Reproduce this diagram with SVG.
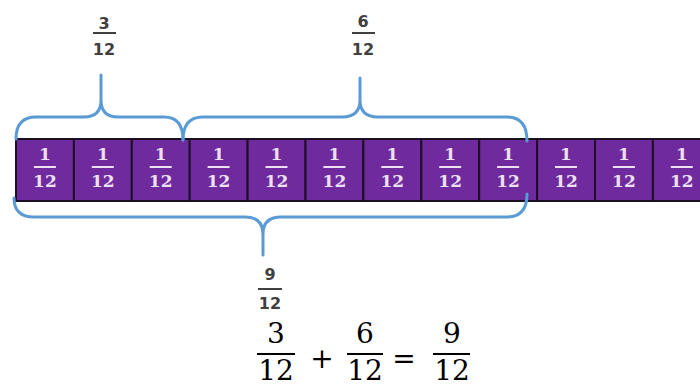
<svg xmlns="http://www.w3.org/2000/svg" width="700" height="387" viewBox="0 0 700 387">
<style>
.cell{fill:#6f2a9e;stroke:#1c0f24;stroke-width:2}
.ct{font-family:"DejaVu Serif",serif;font-weight:bold;font-size:17px;fill:#eee0f4;text-anchor:middle}
.cl{stroke:#eee0f4;stroke-width:2}
.br{fill:none;stroke:#5b9bd5;stroke-width:3;stroke-linecap:round;stroke-linejoin:round}
.lt{font-family:"DejaVu Sans",sans-serif;font-weight:bold;font-size:16px;fill:#404040;text-anchor:middle}
.ll{stroke:#404040;stroke-width:2}
.eq{font-family:"DejaVu Serif",serif;font-size:28px;fill:#000;text-anchor:middle}
.el{stroke:#000;stroke-width:2}
</style>
<defs>
<g id="frac">
<text class="ct" x="0" y="160">1</text>
<line class="cl" x1="-11" y1="167" x2="11" y2="167"/>
<text class="ct" x="0" y="187">12</text>
</g>
</defs>
<g id="bar">
<g id="cell1"><rect class="cell" x="16" y="139" width="57.9" height="62"/><use href="#frac" x="44.9"/></g>
<g id="cell2"><rect class="cell" x="73.9" y="139" width="57.9" height="62"/><use href="#frac" x="102.8"/></g>
<g id="cell3"><rect class="cell" x="131.8" y="139" width="57.9" height="62"/><use href="#frac" x="160.7"/></g>
<g id="cell4"><rect class="cell" x="189.7" y="139" width="57.9" height="62"/><use href="#frac" x="218.6"/></g>
<g id="cell5"><rect class="cell" x="247.6" y="139" width="57.9" height="62"/><use href="#frac" x="276.5"/></g>
<g id="cell6"><rect class="cell" x="305.5" y="139" width="57.9" height="62"/><use href="#frac" x="334.4"/></g>
<g id="cell7"><rect class="cell" x="363.4" y="139" width="57.9" height="62"/><use href="#frac" x="392.3"/></g>
<g id="cell8"><rect class="cell" x="421.3" y="139" width="57.9" height="62"/><use href="#frac" x="450.2"/></g>
<g id="cell9"><rect class="cell" x="479.2" y="139" width="57.9" height="62"/><use href="#frac" x="508.1"/></g>
<g id="cell10"><rect class="cell" x="537.1" y="139" width="57.9" height="62"/><use href="#frac" x="566"/></g>
<g id="cell11"><rect class="cell" x="595" y="139" width="57.9" height="62"/><use href="#frac" x="623.9"/></g>
<g id="cell12"><rect class="cell" x="652.9" y="139" width="57.9" height="62"/><use href="#frac" x="681.8"/></g>
</g>
<g id="braces">
<path class="br" d="M16,139 Q16,117 36,117 L84,117 Q101,117 101,100 Q101,117 118,117 L164,117 Q183,117 183,140 M101,100 L101,75"/>
<path class="br" d="M183,140 Q183,117 203,117 L342,117 Q360,117 360,100 Q360,117 378,117 L507,117 Q527,117 527,141 M360,100 L360,78"/>
<path class="br" d="M14,198 Q14,217 34,217 L245,217 Q263,217 263,234 Q263,217 281,217 L507,217 Q527,217 527,194 M263,234 L263,255"/>
</g>
<g id="label-3-12">
<text class="lt" x="104" y="29">3</text>
<line class="ll" x1="93" y1="33" x2="116" y2="33"/>
<text class="lt" x="104" y="55">12</text>
</g>
<g id="label-6-12">
<text class="lt" x="363" y="27">6</text>
<line class="ll" x1="352" y1="33" x2="375" y2="33"/>
<text class="lt" x="363" y="55">12</text>
</g>
<g id="label-9-12">
<text class="lt" x="270" y="280">9</text>
<line class="ll" x1="258" y1="289" x2="282" y2="289"/>
<text class="lt" x="270" y="309">12</text>
</g>
<g id="equation">
<text class="eq" x="276" y="343">3</text>
<line class="el" x1="257" y1="354" x2="295" y2="354"/>
<text class="eq" x="276" y="380">12</text>
<text class="eq" x="322" y="368">+</text>
<text class="eq" x="365" y="343">6</text>
<line class="el" x1="347" y1="354" x2="383" y2="354"/>
<text class="eq" x="365" y="380">12</text>
<text class="eq" x="404" y="368">=</text>
<text class="eq" x="452" y="343">9</text>
<line class="el" x1="433" y1="354" x2="470" y2="354"/>
<text class="eq" x="452" y="380">12</text>
</g>
</svg>
